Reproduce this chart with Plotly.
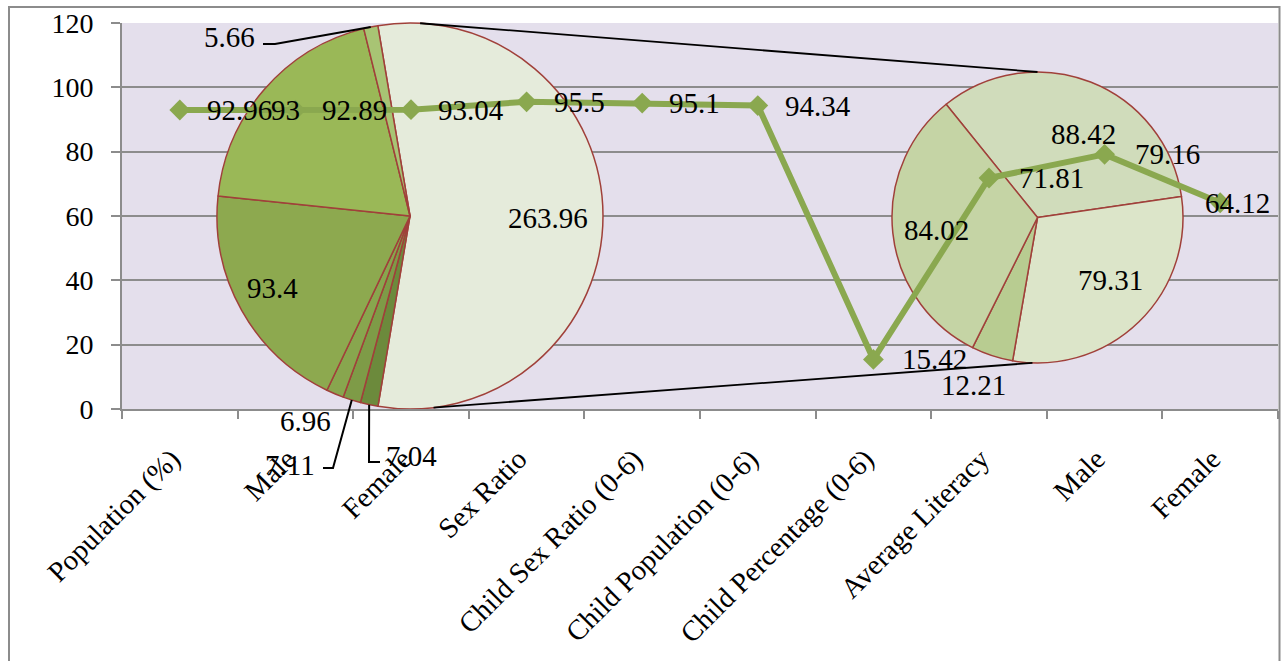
import math
import plotly.graph_objects as go

# ---------------- data ----------------
categories = ["Population (%)", "Male", "Female", "Sex Ratio", "Child Sex Ratio (0-6)",
              "Child Population (0-6)", "Child Percentage (0-6)", "Average Literacy",
              "Male", "Female"]
line_values = [92.96, 92.89, 93.04, 95.5, 95.1, 94.34, 15.42, 71.81, 79.16, 64.12]

# pie of pie: secondary pie values (the "other" slice of the primary pie is their sum)
secondary_values = [88.42, 79.31, 12.21, 84.02]
primary_values_rest = [7.04, 7.11, 6.96, 93.4, 93, 5.66]
other_value = round(sum(secondary_values), 2)
primary_values = [other_value] + primary_values_rest

y_ticks = [0, 20, 40, 60, 80, 100, 120]

# ---------------- layout geometry / style ----------------
FW, FH = 1281, 661
L, RR, T, B = 122, 1278, 23, 409
W, H = RR - L, B - T
FONT = "Liberation Serif"


def pxx(x):
    return (x - L) / W


def pxy(y):
    return (B - y) / H


P1 = dict(cx=410.0, cy=216.0, r=193.0, rot=-9.6)
P2 = dict(cx=1037.5, cy=217.5, r=145.5, rot=-38.9)

primary_colors = ["#E5EBDB", "#6C8A3C", "#7E9B47", "#88A64E", "#8DA94F", "#9AB857", "#A8C474"]
secondary_colors = ["#D0DCBB", "#DCE5C9", "#B8CC91", "#C5D4A5"]
slice_border = "#A0403A"
line_color = "#8AA84F"
grid_color = "#8C8C8C"

# label placement (radius factor, angle offset from slice middle) for in-pie labels
primary_label_style = [(0.715, 0.8), None, None, (1.19, 4.2), (0.806, 1.7), (0.849, -0.7), None]
secondary_label_style = [(0.657, 7.7), (0.658, -5.0), (1.23, 2.6), (0.70, -0.9)]
# outside labels with leader lines: (label x px, label y px, anchor, elbow x, elbow y, end x)
primary_leader_style = {
    6: (257, 37, "right", 275, 44, 263),
    2: (317, 465, "right", 333, 468, 323),
    1: (384, 456, "left", 369, 462, 380),
}
line_label_shift = [25, 25, 25, 25, 25, 25, 27, 28, 28, -17]


def domain(p):
    return dict(x=[pxx(p["cx"] - p["r"]), pxx(p["cx"] + p["r"])],
                y=[max(0, pxy(p["cy"] + p["r"])), min(1, pxy(p["cy"] - p["r"]))])


def slice_mids(values, rot):
    tot = sum(values)
    a = rot
    mids = []
    for v in values:
        span = v / tot * 360
        mids.append(a + span / 2)
        a += span
    return mids


def polar(p, rfac, ang):
    a = math.radians(ang)
    return p["cx"] + rfac * p["r"] * math.sin(a), p["cy"] - rfac * p["r"] * math.cos(a)


def fmt(v):
    s = ("%.2f" % v).rstrip("0").rstrip(".")
    return s


fig = go.Figure()

fig.add_trace(go.Pie(values=primary_values, sort=False, direction="clockwise",
                     rotation=P1["rot"], domain=domain(P1), textinfo="none",
                     hoverinfo="skip", showlegend=False,
                     marker=dict(colors=primary_colors, line=dict(color=slice_border, width=1.5))))
fig.add_trace(go.Pie(values=secondary_values, sort=False, direction="clockwise",
                     rotation=P2["rot"], domain=domain(P2), textinfo="none",
                     hoverinfo="skip", showlegend=False,
                     marker=dict(colors=secondary_colors, line=dict(color=slice_border, width=1.5))))

xs = list(range(len(categories)))
fig.add_trace(go.Scatter(x=xs, y=line_values, mode="lines+markers",
                         line=dict(color=line_color, width=6),
                         marker=dict(symbol="diamond", size=16, color=line_color),
                         hoverinfo="skip", showlegend=False, cliponaxis=False))

annotations = []
lab_font = dict(family=FONT, size=29, color="black")
for i, (x, v) in enumerate(zip(xs, line_values)):
    annotations.append(dict(x=x, y=v, xref="x", yref="y", text=fmt(v), showarrow=False,
                            xanchor="left", yanchor="middle", xshift=line_label_shift[i],
                            yshift=0, font=lab_font))

shapes = []
mids1 = slice_mids(primary_values, P1["rot"])
for i, v in enumerate(primary_values):
    st = primary_label_style[i]
    if st is not None:
        x, y = polar(P1, st[0], mids1[i] + st[1])
        annotations.append(dict(x=pxx(x), y=pxy(y), xref="paper", yref="paper", text=fmt(v),
                                showarrow=False, xanchor="center", yanchor="middle",
                                font=lab_font))
    if i in primary_leader_style:
        lx, ly, anc, ex, ey, endx = primary_leader_style[i]
        annotations.append(dict(x=pxx(lx), y=pxy(ly), xref="paper", yref="paper", text=fmt(v),
                                showarrow=False, xanchor=anc, yanchor="middle", font=lab_font))
        sx, sy = polar(P1, 1.0, mids1[i])
        path = "M %f,%f L %f,%f L %f,%f" % (pxx(sx), pxy(sy), pxx(ex), pxy(ey), pxx(endx), pxy(ey))
        shapes.append(dict(type="path", path=path, xref="paper", yref="paper",
                           line=dict(color="black", width=2)))

mids2 = slice_mids(secondary_values, P2["rot"])
for i, v in enumerate(secondary_values):
    rf, da = secondary_label_style[i]
    x, y = polar(P2, rf, mids2[i] + da)
    annotations.append(dict(x=pxx(x), y=pxy(y), xref="paper", yref="paper", text=fmt(v),
                            showarrow=False, xanchor="center", yanchor="middle", font=lab_font))

# connector lines between the pies
for a1, a2 in [(3, 0), (173, 182)]:
    x0, y0 = polar(P1, 1.0, a1)
    x1, y1 = polar(P2, 1.0, a2)
    shapes.append(dict(type="line", xref="paper", yref="paper", x0=pxx(x0), y0=pxy(y0),
                       x1=pxx(x1), y1=pxy(y1), line=dict(color="black", width=1.8)))

# chart frame
shapes.append(dict(type="rect", xref="paper", yref="paper", x0=pxx(9), x1=pxx(1279.5),
                   y0=pxy(668), y1=pxy(7), line=dict(color="#8C8C8C", width=2),
                   fillcolor="rgba(0,0,0,0)", layer="below"))

fig.update_layout(
    width=FW, height=FH,
    margin=dict(l=L, r=FW - RR, t=T, b=FH - B, pad=0),
    paper_bgcolor="white", plot_bgcolor="#E4DFEC",
    font=dict(family=FONT, size=28, color="black"),
    shapes=shapes, annotations=annotations, showlegend=False,
    xaxis=dict(range=[-0.5, len(categories) - 0.5], tickvals=xs, ticktext=categories,
               tickangle=-45, ticks="", showgrid=False, zeroline=False,
               showline=True, linecolor=grid_color, linewidth=2,
               tickfont=dict(family=FONT, size=28.5, color="black"),
               minor=dict(tickvals=[i - 0.5 for i in range(len(categories) + 1)],
                          ticks="outside", ticklen=8, tickcolor=grid_color, tickwidth=2,
                          showgrid=False),
               ticklabelstandoff=20, ticklabelshift=-8, fixedrange=True),
    yaxis=dict(range=[0, 120], tickvals=y_ticks, ticks="outside", ticklen=9,
               tickcolor=grid_color, tickwidth=2, showgrid=True, gridcolor=grid_color,
               gridwidth=2, zeroline=False, showline=True, linecolor=grid_color, linewidth=2,
               tickfont=dict(family=FONT, size=28, color="black"),
               ticklabelstandoff=12, fixedrange=True),
)

post = """
var gd = document.getElementById('{plot_id}');
var pie = gd.querySelector('.pielayer');
var sub = gd.querySelector('.cartesianlayer .subplot.xy');
if (pie && sub) {
  var over = sub.querySelector('.overplot');
  sub.insertBefore(pie, over);
}
"""

fig.write_html("out.html", post_script=post, config={"displayModeBar": False})
